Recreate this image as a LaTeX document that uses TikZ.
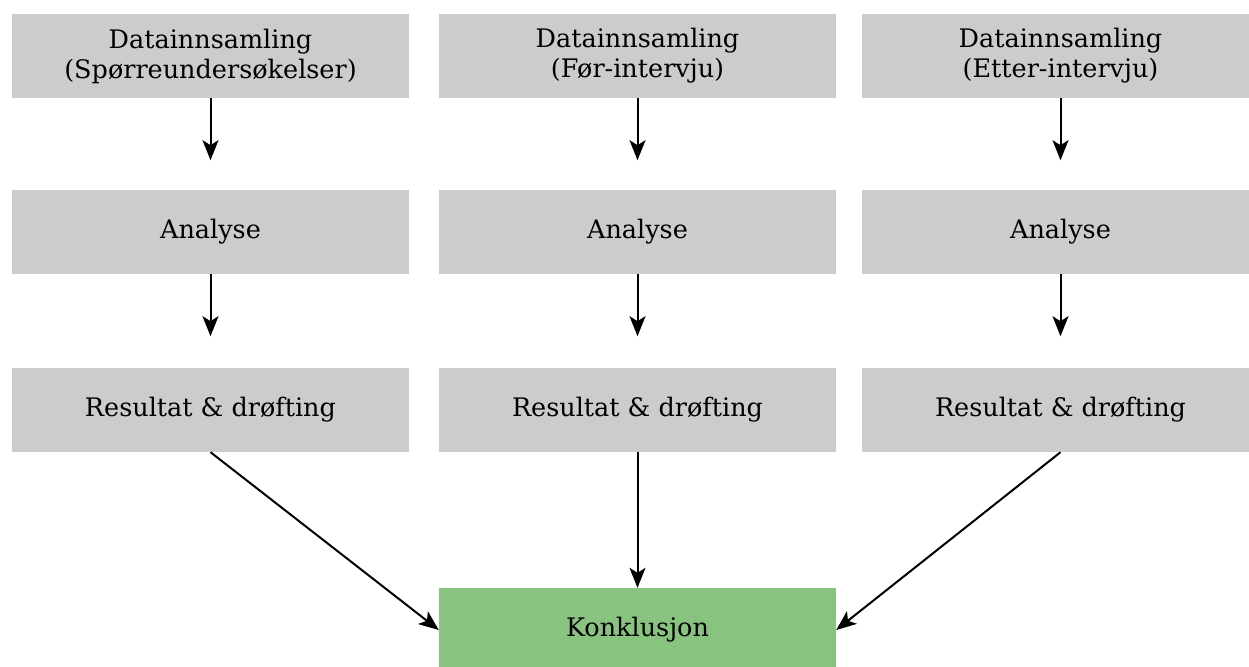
\documentclass[tikz,border=0pt]{standalone}
\usepackage{fontspec}
\setmainfont{DejaVu Serif}
\usetikzlibrary{arrows.meta}
\definecolor{boxgray}{HTML}{CCCCCC}
\definecolor{boxgreen}{HTML}{88C47F}
\begin{document}
\begin{tikzpicture}[x=1pt,y=1pt,
  stagebox/.style={rectangle, fill=boxgray, draw=none, minimum width=397pt,
    minimum height=84pt, inner sep=0pt, align=center,
    font=\fontsize{25.5}{30}\selectfont},
  endbox/.style={stagebox, fill=boxgreen},
  flow/.style={-{Stealth[length=20pt,width=16pt,inset=5pt]}, line width=2pt}]
\useasboundingbox (0,0) rectangle (1249,-666);
\begin{scope}
\clip (0,0) rectangle (1249,-666);
% first column
\node[stagebox] (d1) at (210.5,-56) {Datainnsamling\\(Spørreundersøkelser)};
\node[stagebox] (a1) at (210.5,-232) {Analyse};
\node[stagebox] (r1) at (210.5,-410) {Resultat \& drøfting};
% second column
\node[stagebox] (d2) at (637.5,-56) {Datainnsamling\\(Før-intervju)};
\node[stagebox] (a2) at (637.5,-232) {Analyse};
\node[stagebox] (r2) at (637.5,-410) {Resultat \& drøfting};
% third column
\node[stagebox] (d3) at (1060.5,-56) {Datainnsamling\\(Etter-intervju)};
\node[stagebox] (a3) at (1060.5,-232) {Analyse};
\node[stagebox] (r3) at (1060.5,-410) {Resultat \& drøfting};
% conclusion
\node[endbox] (k) at (637.5,-630) {Konklusjon};
\end{scope}
% short arrows inside each column
\foreach \c in {1,2,3}{
  \draw[flow] (d\c.south) -- ++(0,-62);
  \draw[flow] (a\c.south) -- ++(0,-62);
}
% arrows into the conclusion
\draw[flow] (r1.south) -- (k.west);
\draw[flow] (r2.south) -- (k.north);
\draw[flow] (r3.south) -- (k.east);
\end{tikzpicture}
\end{document}
